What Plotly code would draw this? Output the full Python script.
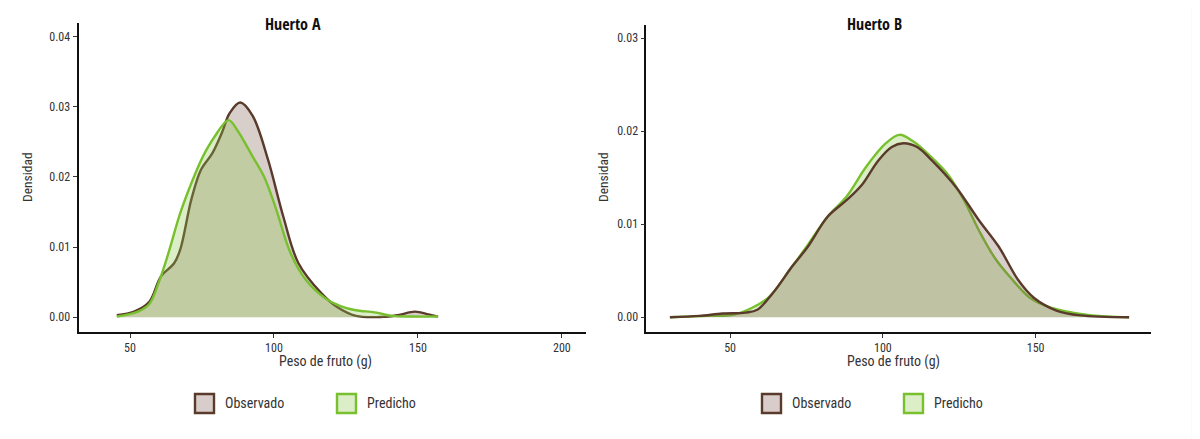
import plotly.graph_objects as go

# Huerto A: density curves
obs_a_x = [45.4, 51.4, 56.7, 60.7, 65.3, 67.4, 71.3, 74.6, 78.6, 81.9, 84.6, 88.3,
           92.6, 97.9, 103.2, 108.5, 116.5, 121.8, 128.5, 137.7, 143.0, 149.0, 153.7, 157.0]
obs_a_y = [0.0003, 0.0008, 0.0022, 0.0058, 0.0077, 0.0096, 0.0168, 0.0210, 0.0234, 0.0263,
           0.0291, 0.0306, 0.0287, 0.0225, 0.0144, 0.0077, 0.0034, 0.0015, 0.0002, 0.00005,
           0.0003, 0.0008, 0.0004, 0.0001]
pred_a_x = [45.4, 52.7, 56.7, 60.0, 63.3, 67.4, 71.3, 75.3, 79.3, 84.2, 87.2, 92.6, 96.6,
            100.5, 105.8, 111.1, 117.8, 123.1, 128.4, 135.0, 141.0, 148.4, 157.0]
pred_a_y = [0.0001, 0.0008, 0.0019, 0.0050, 0.0091, 0.0148, 0.0191, 0.0229, 0.0257, 0.0281,
            0.0267, 0.0229, 0.0200, 0.0157, 0.0091, 0.0053, 0.0027, 0.0016, 0.0010, 0.0007,
            0.0002, 0.0001, 0.0001]

# Huerto B
obs_b_x = [30.3, 39.9, 47.5, 55.1, 58.9, 64.0, 70.4, 75.5, 81.9, 88.2, 93.3, 98.4, 102.9,
           106.7, 111.2, 116.2, 123.9, 131.5, 137.9, 144.3, 149.4, 157.0, 164.6, 180.6]
obs_b_y = [0.0, 0.00015, 0.0004, 0.0005, 0.0008, 0.0026, 0.0055, 0.0076, 0.0108, 0.0126,
           0.0143, 0.0168, 0.0183, 0.0187, 0.0183, 0.0168, 0.0140, 0.0104, 0.0076, 0.0040,
           0.0021, 0.0007, 0.0002, 0.0]
pred_b_x = [30.3, 42.4, 51.3, 57.7, 62.8, 70.4, 75.5, 81.9, 88.2, 94.6, 101.0, 105.4, 109.9,
            116.2, 121.4, 126.5, 131.5, 136.6, 141.7, 148.1, 154.5, 162.1, 168.5, 180.6]
pred_b_y = [0.0, 0.00015, 0.0003, 0.0011, 0.0022, 0.0055, 0.0078, 0.0108, 0.0130, 0.0162,
            0.0187, 0.0196, 0.0189, 0.0171, 0.0153, 0.0126, 0.0093, 0.0064, 0.0043, 0.0021,
            0.0011, 0.0005, 0.0002, 0.0]

series_names = ["Observado", "Predicho"]
panel_titles = ["Huerto A", "Huerto B"]
x_title = "Peso de fruto (g)"
y_title = "Densidad"
ticks_a_x = [50, 100, 150, 200]
ticks_a_y = [0, 0.01, 0.02, 0.03, 0.04]
ticks_b_x = [50, 100, 150]
ticks_b_y = [0, 0.01, 0.02, 0.03]

# the page puts the figure 8px in from the top-left corner of the window
OFF = 8
W, H = 1200 - OFF, 439 - OFF
FONT = "Roboto Condensed, Roboto, sans-serif"
TITLE_FONT = "Open Sans Condensed, Roboto Condensed, sans-serif"
BROWN = "#5a3a2b"
GREEN = "#78c02e"
BROWN_FILL = "rgba(125, 92, 78, 0.30)"
GREEN_FILL = "rgba(138, 198, 72, 0.30)"
BROWN_KEY = "#d8cdca"
GREEN_KEY = "#dceec8"
TEXT = "#333333"


def px(x):
    return (x - OFF) / W


def py(y):
    return 1 - (y - OFF) / H


def curve(x, y, name, line, fill, xa, ya):
    return go.Scatter(
        x=x, y=y, name=name, mode="lines", line=dict(color=line, width=2.4, shape="spline"),
        fill="tozeroy", fillcolor=fill, xaxis=xa, yaxis=ya, showlegend=False,
        hoverinfo="x+y+name",
    )


def label(text, x, y, size, family=FONT, color=TEXT, **kw):
    opts = dict(text=text, x=px(x), y=py(y), xref="paper", yref="paper", showarrow=False,
                xanchor="center", yanchor="middle",
                font=dict(family=family, size=size, color=color))
    opts.update(kw)
    return opts


fig = go.Figure()
# left panel: predicted drawn on top, right panel: observed drawn on top
fig.add_trace(curve(obs_a_x, obs_a_y, series_names[0], BROWN, BROWN_FILL, "x", "y"))
fig.add_trace(curve(pred_a_x, pred_a_y, series_names[1], GREEN, GREEN_FILL, "x", "y"))
fig.add_trace(curve(pred_b_x, pred_b_y, series_names[1], GREEN, GREEN_FILL, "x2", "y2"))
fig.add_trace(curve(obs_b_x, obs_b_y, series_names[0], BROWN, BROWN_FILL, "x2", "y2"))

axis_common = dict(
    showline=True, linecolor="#111111", linewidth=1.8, showgrid=False, zeroline=False,
    ticks="outside", ticklen=4, tickcolor="#333333", tickwidth=1,
    tickfont=dict(family=FONT, size=12, color=TEXT),
)

fig.update_layout(
    width=W, height=H,
    margin=dict(l=0, r=0, t=0, b=0),
    paper_bgcolor="white", plot_bgcolor="white",
    font=dict(family=FONT, color=TEXT),
    xaxis=dict(domain=[px(78.5), px(585.5)], range=[32.1, 208.2], tickvals=ticks_a_x,
               anchor="y", **axis_common),
    yaxis=dict(domain=[py(331.7), py(23.3)], range=[-0.00206, 0.0419],
               tickvals=ticks_a_y, tickformat=".2f", anchor="x", **axis_common),
    xaxis2=dict(domain=[px(646.4), px(1151.4)], range=[22.6, 187.9], tickvals=ticks_b_x,
                anchor="y2", **axis_common),
    yaxis2=dict(domain=[py(331.7), py(25)], range=[-0.00155, 0.0314],
                tickvals=ticks_b_y, tickformat=".2f", anchor="x2", **axis_common),
)

annotations = []
shapes = []
for title, tx, xt_x, yt_x in [(panel_titles[0], 293, 326, 27), (panel_titles[1], 874, 893, 603)]:
    annotations.append(label(f"<b>{title}</b>", tx, 24, 16, family=TITLE_FONT, color="#111111"))
    annotations.append(label(x_title, xt_x, 361, 14))
    annotations.append(label(y_title, yt_x, 177, 13.5, textangle=-90))

# legend keys drawn under each panel
for bx1, bx2 in [(195, 337), (762, 904)]:
    for bx, name, line, key in [(bx1, series_names[0], BROWN, BROWN_KEY),
                                (bx2, series_names[1], GREEN, GREEN_KEY)]:
        shapes.append(dict(type="rect", xref="paper", yref="paper",
                           x0=px(bx), x1=px(bx + 19), y0=py(413), y1=py(394),
                           line=dict(color=line, width=2.4), fillcolor=key))
        annotations.append(label(name, bx + 28, 403, 14, xanchor="left"))

# browser scrollbar seen at the right edge of the reference
shapes.append(dict(type="rect", xref="paper", yref="paper", x0=px(1191.5), x1=1, y0=0, y1=1,
                   line=dict(width=0), fillcolor="#f8f8f8", layer="below"))
shapes.append(dict(type="rect", xref="paper", yref="paper", x0=px(1194), x1=px(1199.5),
                   y0=py(77), y1=py(32), line=dict(width=0), fillcolor="#e2e2e2"))

fig.update_layout(annotations=annotations, shapes=shapes)

fig.write_html("out.html")
